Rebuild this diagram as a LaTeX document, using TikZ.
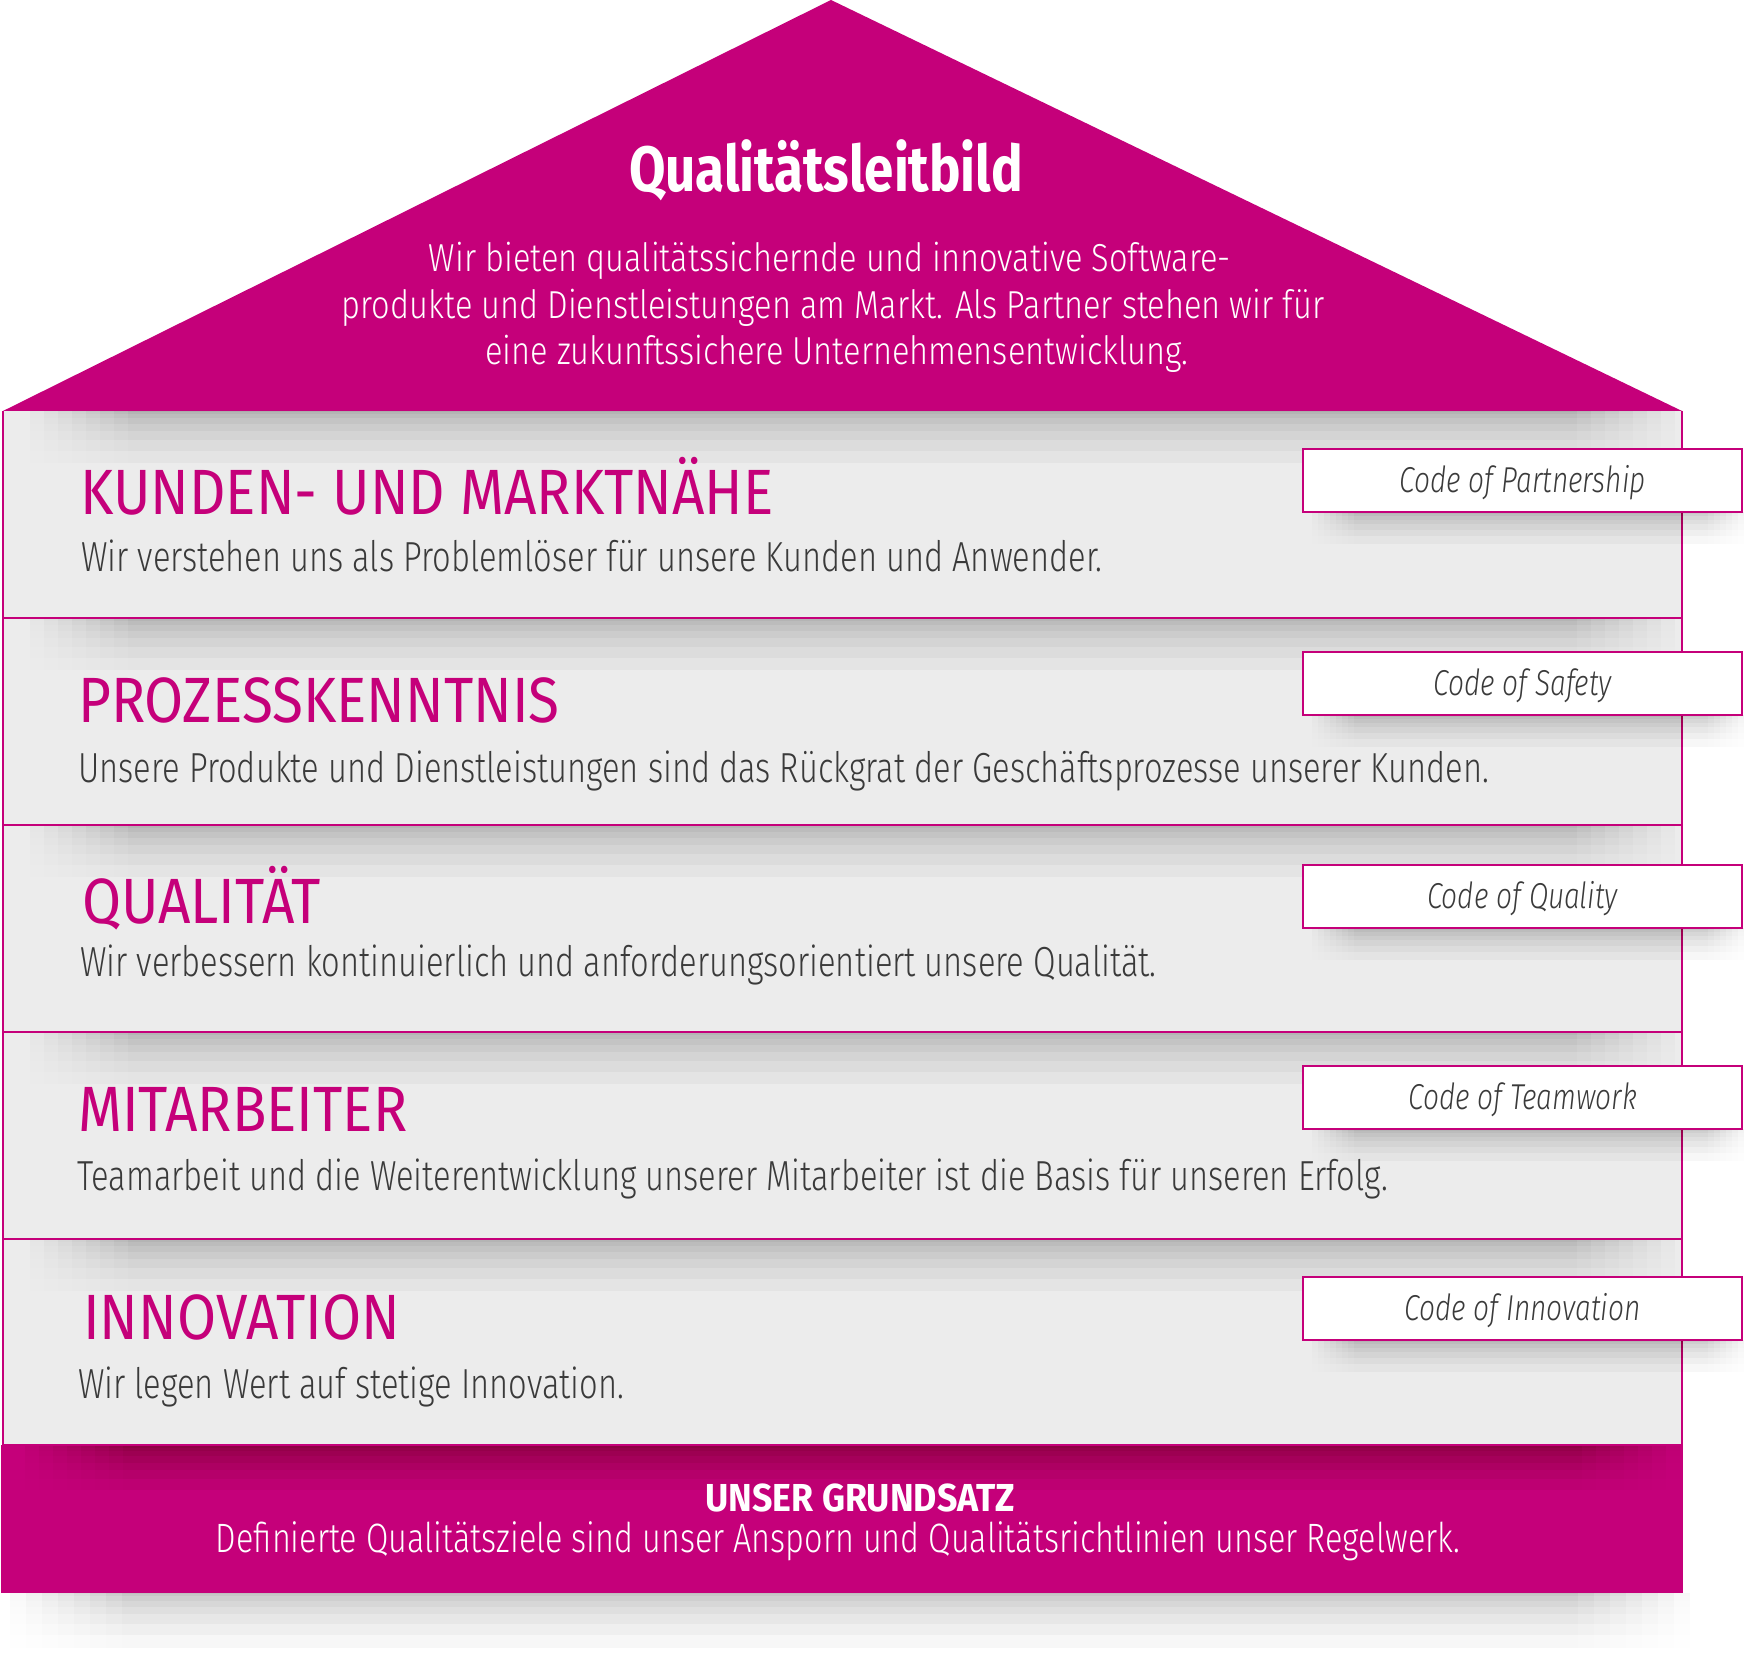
\documentclass[tikz,border=0pt]{standalone}
\usepackage{fontspec}
\newfontfamily\lightf{Fira Sans}[UprightFont=* Light, FakeStretch=0.778]
\newfontfamily\rooff{Fira Sans}[UprightFont=* Light, FakeStretch=0.835]
\newfontfamily\basef{Fira Sans}[UprightFont=* Light, FakeStretch=0.79]
\newfontfamily\codef{Fira Sans}[UprightFont=* Light Italic, FakeStretch=0.78]
\newfontfamily\headf{Fira Sans}[FakeStretch=0.885]
\newfontfamily\boldf{Fira Sans}[UprightFont=* Bold, FakeStretch=0.826]
\newfontfamily\boldg{Fira Sans}[UprightFont=* Bold, FakeStretch=0.916]
\definecolor{mag}{RGB}{197,0,122}
\definecolor{bandgray}{RGB}{236,236,236}
\definecolor{txtgray}{RGB}{58,58,58}
% soft shadow: grid of translucent layers (horizontal ramp x vertical ramp)
\newcommand\housesh[6]{% x1 x2 Y depth opacity step
  \foreach \i in {0,...,7}{\foreach \j in {1,...,8}{\fill[black,opacity=#5] ({#1+\i*#6},#3) rectangle ({#2-\i*#6},{#3-#4*\j*\j/64});}}}
\tikzset{
  band/.style={fill=bandgray},
  bandline/.style={draw=mag,line width=2pt},
  heading/.style={anchor=base west,inner sep=0pt,text=mag,font=\headf\fontsize{64}{70}\selectfont},
  bodytext/.style={anchor=base west,inner sep=0pt,text=txtgray,font=\lightf\fontsize{42}{46}\selectfont},
  rooftext/.style={anchor=base,inner sep=0pt,text=white,font=\rooff\fontsize{39}{46}\selectfont},
  codebox/.style={draw=mag,line width=2pt,fill=white,minimum width=439pt,minimum height=63pt,inner sep=0pt,text height=25pt,text depth=0pt,text=txtgray,font=\codef\fontsize{36}{40}\selectfont},
}
\begin{document}
\begin{tikzpicture}[x=1pt,y=1pt]
\useasboundingbox (0,0) rectangle (1744,1667);
% base shadow on white
\housesh{10}{1690}{74}{55}{0.0048}{16}
% base
\fill[mag] (1,74) rectangle (1683,222);
% bands
\foreach \t in {1256,1049,842,635,428}{\fill[band] (3,\t) rectangle (1682,{\t-207});}
% roof
\fill[mag] (3,1256) -- (831,1667) -- (1682,1256) -- cycle;
% shadows on bands
\foreach \t in {1256,1049,842,635,428}{\housesh{30}{1675}{\t}{52}{0.0036}{14}}
% shadow on base
\housesh{25}{1680}{222}{45}{0.0055}{14}
% band lines
\draw[bandline] (3,222) -- (3,1256);
\draw[bandline] (1682,222) -- (1682,1256);
\foreach \t in {1049,842,635,428,222}{\draw[bandline] (3,\t) -- (1682,\t);}
% code box shadows
\foreach \b in {1155,952,739,538,327}{\housesh{1312}{1750}{\b}{32}{0.0058}{6}}
% code boxes
\node[codebox] (c1) at (1522.5,1186.5) {Code of Partnership};
\node[codebox] (c2) at (1522.5,983.5) {Code of Safety};
\node[codebox] (c3) at (1522.5,770.5) {Code of Quality};
\node[codebox] (c4) at (1522.5,569.5) {Code of Teamwork};
\node[codebox] (c5) at (1522.5,358.5) {Code of Innovation};
% roof texts
\node[anchor=base,inner sep=0pt,text=white,font=\boldf\fontsize{64}{70}\selectfont] (title) at (826,1475) {Qualitätsleitbild};
\node[rooftext] (r1) at (830,1395) {Wir bieten qualitätssichernde und innovative Software-};
\node[rooftext] (r2) at (833,1348.5) {produkte und Dienstleistungen am Markt. Als Partner stehen wir für};
\node[rooftext] (r3) at (837,1302) {eine zukunftssichere Unternehmensentwicklung.};
% band texts
\node[heading] (h1) at (80,1152) {KUNDEN- UND MARKTNÄHE};
\node[bodytext] (b1) at (81,1095) {Wir verstehen uns als Problemlöser für unsere Kunden und Anwender.};
\node[heading] (h2) at (78,944) {PROZESSKENNTNIS};
\node[bodytext] (b2) at (78,884) {Unsere Produkte und Dienstleistungen sind das Rückgrat der Geschäftsprozesse unserer Kunden.};
\node[heading] (h3) at (82,743) {QUALITÄT};
\node[bodytext] (b3) at (80,690) {Wir verbessern kontinuierlich und anforderungsorientiert unsere Qualität.};
\node[heading] (h4) at (78,535) {MITARBEITER};
\node[bodytext] (b4) at (77,476) {Teamarbeit und die Weiterentwicklung unserer Mitarbeiter ist die Basis für unseren Erfolg.};
\node[heading] (h5) at (83,327) {INNOVATION};
\node[bodytext] (b5) at (78,268) {Wir legen Wert auf stetige Innovation.};
% base texts
\node[anchor=base,inner sep=0pt,text=white,font=\boldg\fontsize{39}{44}\selectfont] (g1) at (860,155) {UNSER GRUNDSATZ};
\node[anchor=base,inner sep=0pt,text=white,font=\basef\fontsize{41}{46}\selectfont] (g2) at (838,114) {Definierte Qualitätsziele sind unser Ansporn und Qualitätsrichtlinien unser Regelwerk.};
\end{tikzpicture}
\end{document}
